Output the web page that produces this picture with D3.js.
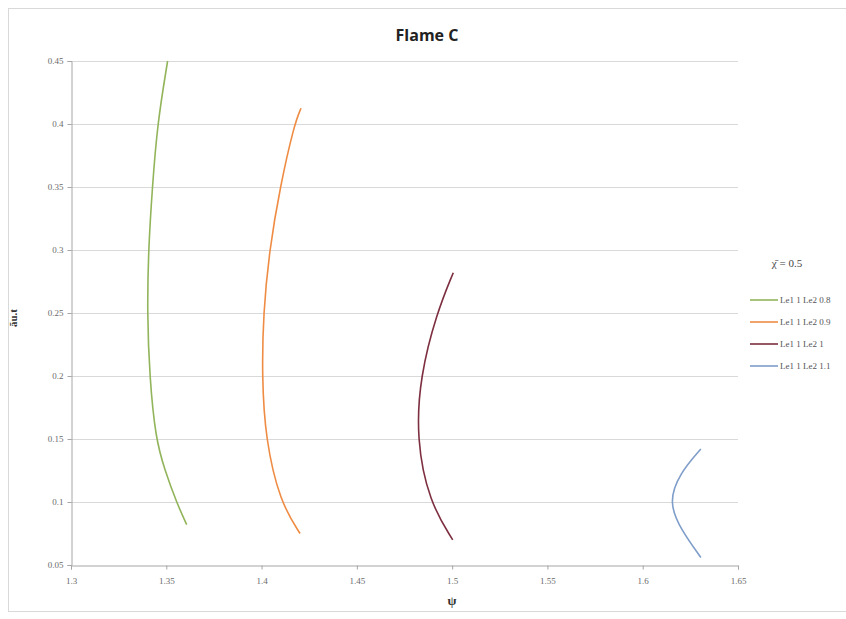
<!DOCTYPE html>
<html>
<head>
<meta charset="utf-8">
<script src="https://cdn.jsdelivr.net/npm/d3@7"></script>
<style>
  body { margin: 0; background: #fff; }
  svg { display: block; }
</style>
</head>
<body>
<div id="chart"></div>
<script>
// tick values for both axes
const xTickValues = [1.3, 1.35, 1.4, 1.45, 1.5, 1.55, 1.6, 1.65];
const yTickValues = [0.05, 0.1, 0.15, 0.2, 0.25, 0.3, 0.35, 0.4, 0.45];

// series
const seriesNames = ["Le1 1 Le2 0.8", "Le1 1 Le2 0.9", "Le1 1 Le2 1", "Le1 1 Le2 1.1"];
const seriesColors = ["#92b45a", "#ef8c44", "#7d2f40", "#7f9dc9"];

const le08X = [1.3607, 1.3553, 1.3493, 1.3444, 1.3412, 1.3400, 1.3406, 1.3427, 1.3453, 1.3507];
const le08Y = [0.082, 0.10, 0.125, 0.15, 0.20, 0.25, 0.30, 0.35, 0.40, 0.45];

const le09X = [1.4202, 1.4097, 1.4020, 1.4002, 1.4009, 1.4041, 1.4097, 1.4172, 1.4207];
const le09Y = [0.075, 0.10, 0.15, 0.20, 0.25, 0.30, 0.35, 0.40, 0.4125];

const le10X = [1.5003, 1.4880, 1.4812, 1.4832, 1.4919, 1.5006];
const le10Y = [0.070, 0.10, 0.15, 0.20, 0.25, 0.282];

const le11X = [1.6305, 1.6200, 1.6135, 1.6195, 1.6305];
const le11Y = [0.056, 0.078, 0.10, 0.123, 0.142];

const seriesX = [le08X, le09X, le10X, le11X];
const seriesY = [le08Y, le09Y, le10Y, le11Y];

const width = 846, height = 619;
const margin = {left: 71, right: 108, top: 61, bottom: 54};

const svg = d3.select("#chart").append("svg")
    .attr("width", width)
    .attr("height", height);

// chart area border
svg.append("rect")
    .attr("x", 8.5).attr("y", 8.5)
    .attr("width", 845).attr("height", 603)
    .attr("fill", "#fff")
    .attr("stroke", "#d9d9d9");

const x = d3.scaleLinear().domain([1.3, 1.65]).range([margin.left, width - margin.right]);
const y = d3.scaleLinear().domain([0.05, 0.45]).range([height - margin.bottom, margin.top]);

// gridlines
svg.append("g")
    .selectAll("line")
    .data(yTickValues.slice(1))
    .join("line")
    .attr("x1", x(1.3)).attr("x2", x(1.65))
    .attr("y1", d => Math.round(y(d)) + 0.5)
    .attr("y2", d => Math.round(y(d)) + 0.5)
    .attr("stroke", "#d9d9d9");

// axes
const yAxis = svg.append("g")
    .attr("transform", `translate(${x(1.3) + 0.5},0)`)
    .call(d3.axisLeft(y).tickValues(yTickValues).tickSize(4).tickPadding(4)
        .tickFormat(d => d3.format("")(+d.toFixed(2))));
const xAxis = svg.append("g")
    .attr("transform", `translate(0,${Math.round(y(0.05)) + 0.5})`)
    .call(d3.axisBottom(x).tickValues(xTickValues).tickSize(4).tickPadding(8)
        .tickFormat(d => d3.format("")(+d.toFixed(2))));

[yAxis, xAxis].forEach(a => {
    a.select(".domain").attr("stroke", "#a6a6a6");
    a.selectAll(".tick line").attr("stroke", "#a6a6a6");
    a.selectAll(".tick text")
        .attr("fill", "#6b6b6b")
        .style("font-family", "Liberation Serif")
        .style("font-size", "9px");
});

// curves (smoothed like excel's smoothed scatter lines)
const line = d3.line()
    .x(d => x(d[0]))
    .y(d => y(d[1]))
    .curve(d3.curveBasis);

seriesNames.forEach((name, i) => {
    const pts = seriesX[i].map((v, j) => [v, seriesY[i][j]]);
    svg.append("path")
        .datum(pts)
        .attr("fill", "none")
        .attr("stroke", seriesColors[i])
        .attr("stroke-width", 1.6)
        .attr("d", line);
});

// title
svg.append("text")
    .attr("x", 427).attr("y", 41)
    .attr("text-anchor", "middle")
    .style("font-family", "Open Sans, Liberation Sans")
    .style("font-weight", "bold")
    .style("font-size", "16px")
    .attr("fill", "#222")
    .text("Flame C");

// axis titles
svg.append("text")
    .attr("x", 452).attr("y", 605)
    .attr("text-anchor", "middle")
    .style("font-family", "Liberation Serif")
    .style("font-weight", "bold")
    .style("font-size", "13px")
    .attr("fill", "#333")
    .text("ψ");

svg.append("text")
    .attr("transform", "translate(17,318) rotate(-90)")
    .attr("text-anchor", "middle")
    .style("font-family", "Liberation Serif")
    .style("font-weight", "bold")
    .style("font-size", "11px")
    .attr("fill", "#333")
    .text("ãu.t");

// legend
const legend = svg.append("g").attr("transform", "translate(750,0)");
legend.append("text")
    .attr("x", 37).attr("y", 267)
    .attr("text-anchor", "middle")
    .style("font-family", "Liberation Serif")
    .style("font-size", "11px")
    .attr("fill", "#444")
    .text("χ̄ = 0.5");

const items = legend.selectAll("g.item")
    .data(seriesNames)
    .join("g")
    .attr("class", "item")
    .attr("transform", (d, i) => `translate(0,${300 + i * 22})`);
items.append("line")
    .attr("x1", 0).attr("x2", 28)
    .attr("stroke", (d, i) => seriesColors[i])
    .attr("stroke-width", 1.6);
items.append("text")
    .attr("x", 30).attr("y", 3)
    .style("font-family", "Liberation Serif")
    .style("font-size", "9px")
    .attr("fill", "#555")
    .text(d => d);
</script>
</body>
</html>
